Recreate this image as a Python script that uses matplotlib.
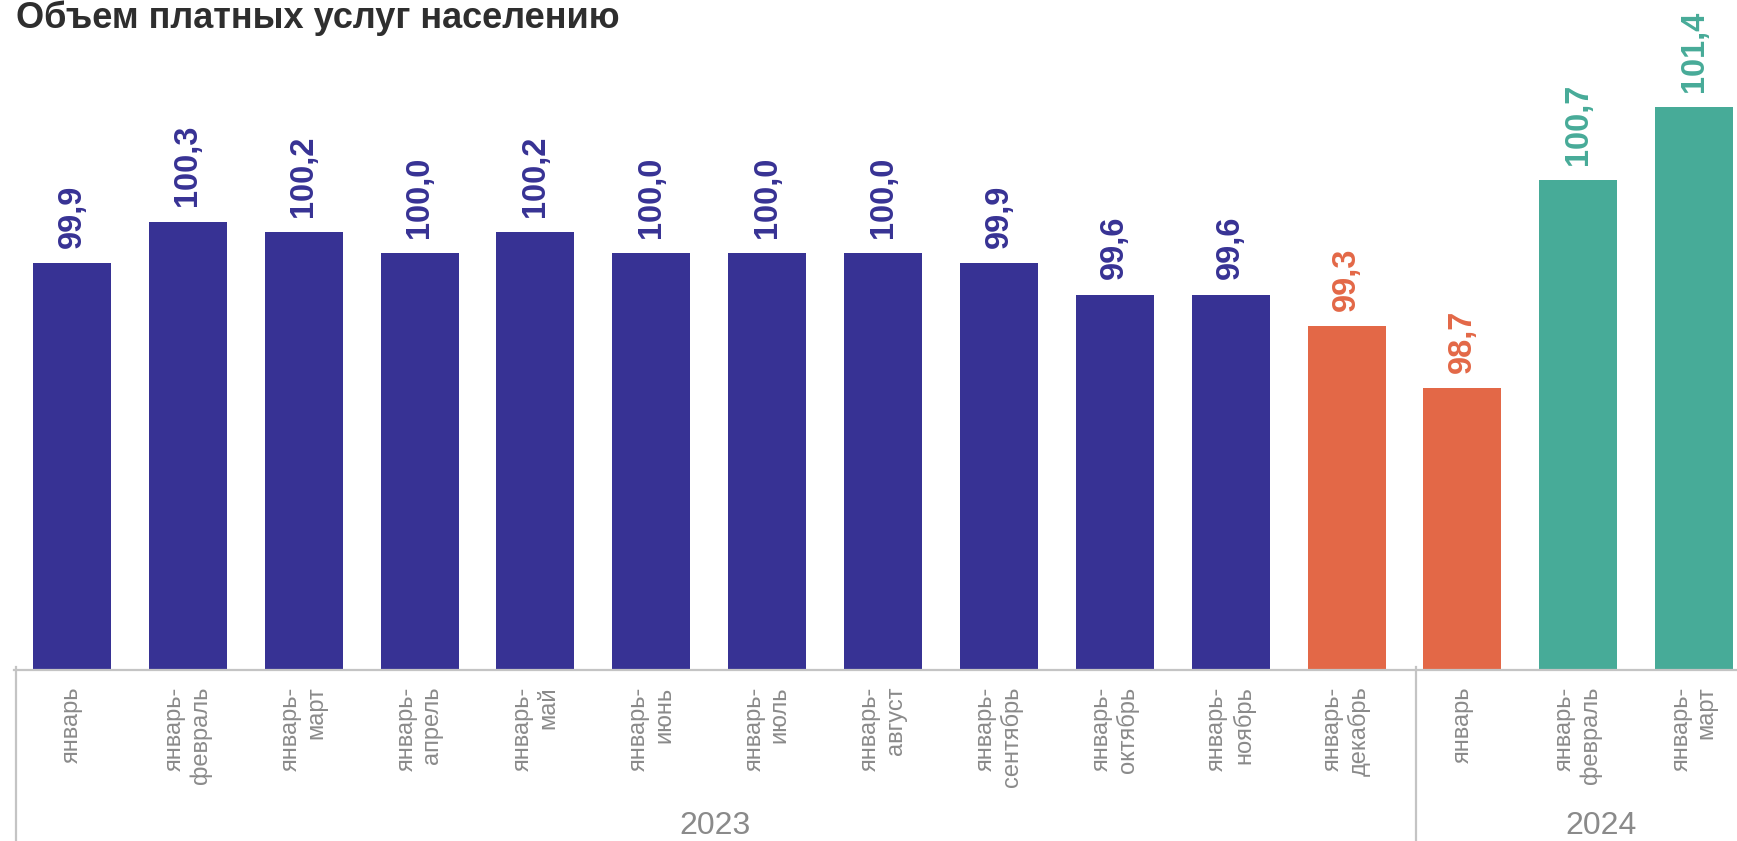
import matplotlib
matplotlib.use("Agg")
import matplotlib.pyplot as plt
import matplotlib.transforms as mtransforms
import numpy as np

plt.rcParams["font.family"] = ["Liberation Sans", "DejaVu Sans"]

# data
periods_2023 = ["январь", "январь-\nфевраль", "январь-\nмарт", "январь-\nапрель",
                "январь-\nмай", "январь-\nиюнь", "январь-\nиюль", "январь-\nавгуст",
                "январь-\nсентябрь", "январь-\nоктябрь", "январь-\nноябрь",
                "январь-\nдекабрь"]
periods_2024 = ["январь", "январь-\nфевраль", "январь-\nмарт"]
values_2023 = [99.9, 100.3, 100.2, 100.0, 100.2, 100.0, 100.0, 100.0, 99.9, 99.6, 99.6, 99.3]
values_2024 = [98.7, 100.7, 101.4]
years = ["2023", "2024"]

NAVY = "#373294"
ORANGE = "#E36847"
TEAL = "#47AB98"
GRAY_TXT = "#8a8a8a"
GRAY_LINE = "#c4c4c4"

colors = [NAVY] * 11 + [ORANGE] + [ORANGE, TEAL, TEAL]

labels = periods_2023 + periods_2024
values = values_2023 + values_2024
x = np.arange(len(values))

W, H = 1737, 841
fig = plt.figure(figsize=(W / 100, H / 100), dpi=100)
base_px = 670
ax = fig.add_axes([14 / W, (H - base_px) / H, (W - 14) / W, base_px / H])

ymin = 96.0
px_per_unit = 104.3
ax.set_ylim(ymin, ymin + base_px / px_per_unit)
ax.set_xlim(-0.5, 14.37)

bars = ax.bar(x, [v - ymin for v in values], bottom=ymin, width=0.673, color=colors)

for xi, v, c in zip(x, values, colors):
    ax.annotate(f"{v:.1f}".replace(".", ","), (xi, v), xytext=(0, 11),
                textcoords="offset points", rotation=90, ha="center", va="bottom",
                fontsize=23.5, fontweight="bold", color=c)

for s in ["top", "right", "left"]:
    ax.spines[s].set_visible(False)
ax.spines["bottom"].set_color(GRAY_LINE)
ax.spines["bottom"].set_linewidth(1.6)
ax.set_yticks([])
ax.set_xticks(x)
ax.set_xticklabels(labels, rotation=90, ha="center", va="top",
                   multialignment="right", fontsize=17, color=GRAY_TXT)
ax.tick_params(axis="x", length=0, pad=12)

# group separators below the axis
trans = mtransforms.blended_transform_factory(ax.transData, ax.transAxes)
sep_bottom = -(H - base_px) / base_px
for xs in [-0.48, 11.6]:
    ax.plot([xs, xs], [0.005, sep_bottom], transform=trans, color=GRAY_LINE,
            lw=1.6, clip_on=False)

# year labels
for xc, yr in zip([5.55, 13.2], years):
    ax.text(xc, sep_bottom + 15 / base_px, yr, transform=trans, ha="center",
            va="center", fontsize=23, color=GRAY_TXT)

fig.text(16 / W, 1 - 28 / H, "Объем платных услуг населению",
         fontsize=26, fontweight="bold", color="#2e2e2e", ha="left", va="baseline")

fig.savefig("out.png", dpi=100)
